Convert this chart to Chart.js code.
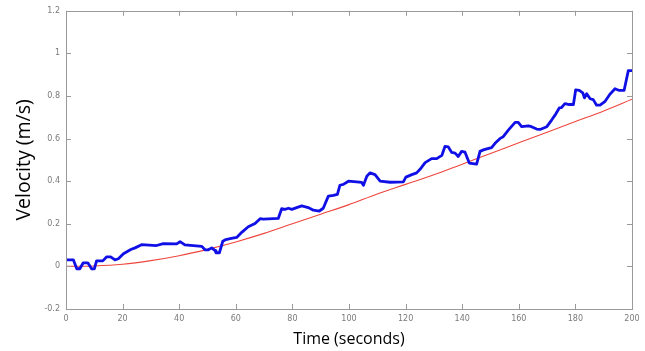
<!DOCTYPE html>
<html>
<head>
    <meta charset="UTF-8">
    <title>Velocity</title>
    <script src="https://cdn.jsdelivr.net/npm/chart.js"></script>
    <style>
        body {
            margin: 0;
            background-color: #fff;
            overflow: hidden;
        }
        .chart-container {
            width: 645px;
            height: 351px;
        }
    </style>
</head>
<body>
<div class="chart-container">
    <canvas id="velocityChart" width="645" height="351"></canvas>
</div>
<script>
    // measured velocity (blue)
    const measuredTime = [
        0, 2.6, 3.8, 4.9, 6.1, 7.7, 9.1, 10.0, 10.8, 13.0,
        14.4, 15.8, 17.3, 18.5, 20.3, 22.9, 24.4, 26.7, 32, 34.4,
        39.1, 40.3, 42, 48, 49.1, 50.3, 51.5, 52.7, 53, 54.2,
        55.4, 56.5, 58, 60.3, 62.1, 64.4, 66.8, 68.6, 69.7, 75,
        76.2, 77.4, 78.6, 79.8, 81.5, 83.3, 85.6, 87.4, 89.5, 90.9,
        92.7, 94.5, 95.9, 96.8, 98, 99.8, 102.7, 104.5, 105.1, 106.3,
        107.4, 109.2, 111, 114.5, 119.2, 120.1, 122.2, 123.9, 125.1, 126.9,
        129.2, 131, 132.8, 133.9, 135.1, 136.3, 137.5, 138.6, 139.8, 141,
        142.5, 145.1, 146.3, 147.5, 148.7, 150.4, 151.6, 153.4, 154.5, 156.3,
        158.7, 159.8, 161, 163.4, 164.5, 166.3, 167.5, 169.9, 171.6, 172.8,
        174.3, 175.1, 176.3, 177.8, 179.3, 180.1, 181.4, 182.6, 183.2, 184,
        185.2, 186.3, 187.5, 188.7, 190.5, 192.2, 194, 195.5, 197.2, 198.7,
        200
    ];
    const measuredVelocity = [
        0.031, 0.031, -0.011, -0.011, 0.017, 0.017, -0.012, -0.012, 0.026, 0.026,
        0.045, 0.045, 0.031, 0.036, 0.059, 0.079, 0.087, 0.102, 0.098, 0.107,
        0.106, 0.116, 0.101, 0.094, 0.078, 0.078, 0.087, 0.074, 0.064, 0.064,
        0.118, 0.126, 0.13, 0.136, 0.16, 0.186, 0.201, 0.224, 0.222, 0.225,
        0.271, 0.268, 0.273, 0.268, 0.276, 0.284, 0.276, 0.264, 0.26, 0.273,
        0.33, 0.333, 0.338, 0.381, 0.385, 0.4, 0.397, 0.394, 0.381, 0.423,
        0.439, 0.431, 0.4, 0.395, 0.397, 0.419, 0.431, 0.439, 0.456, 0.487,
        0.506, 0.506, 0.521, 0.563, 0.561, 0.535, 0.532, 0.516, 0.54, 0.536,
        0.485, 0.48, 0.54, 0.547, 0.552, 0.558, 0.578, 0.601, 0.609, 0.64,
        0.676, 0.676, 0.656, 0.66, 0.656, 0.645, 0.643, 0.656, 0.687, 0.71,
        0.744, 0.746, 0.764, 0.76, 0.76, 0.829, 0.826, 0.815, 0.791, 0.811,
        0.787, 0.783, 0.757, 0.757, 0.775, 0.808, 0.834, 0.826, 0.826, 0.919,
        0.919
    ];

    // model velocity (red)
    const modelTime = [0, 10, 20, 30, 40, 50, 60, 70, 80, 90, 100, 110, 120, 130, 140, 150, 160, 170, 180, 190, 200];
    const modelVelocity = [0, 0.002, 0.01, 0.027, 0.05, 0.08, 0.115, 0.155, 0.2, 0.245, 0.29, 0.34, 0.385, 0.43, 0.48, 0.53, 0.58, 0.63, 0.68, 0.73, 0.785];

    const xTicks = [0, 20, 40, 60, 80, 100, 120, 140, 160, 180, 200];
    const yTicks = [-0.2, 0, 0.2, 0.4, 0.6, 0.8, 1, 1.2];

    const axisColor = '#9a9a9a';
    const tickColor = '#7a7a7a';

    // matlab style box with inward ticks
    const boxPlugin = {
        id: 'box',
        afterDraw(chart) {
            const ctx = chart.ctx;
            const a = chart.chartArea;
            const xs = chart.scales.x;
            const ys = chart.scales.y;
            const len = 5;
            ctx.save();
            ctx.strokeStyle = axisColor;
            ctx.lineWidth = 1;
            ctx.strokeRect(Math.round(a.left) + 0.5, Math.round(a.top) + 0.5,
                Math.round(a.right - a.left), Math.round(a.bottom - a.top));
            ctx.beginPath();
            xTicks.forEach(t => {
                const px = Math.round(xs.getPixelForValue(t)) + 0.5;
                ctx.moveTo(px, a.bottom);
                ctx.lineTo(px, a.bottom - len);
                ctx.moveTo(px, a.top);
                ctx.lineTo(px, a.top + len);
            });
            yTicks.forEach(t => {
                const py = Math.round(ys.getPixelForValue(t)) + 0.5;
                ctx.moveTo(a.left, py);
                ctx.lineTo(a.left + len, py);
                ctx.moveTo(a.right, py);
                ctx.lineTo(a.right - len, py);
            });
            ctx.stroke();
            ctx.restore();
        }
    };

    const velocityChart = new Chart(document.getElementById('velocityChart'), {
        type: 'line',
        data: {
            datasets: [{
                label: 'Measured',
                data: measuredTime.map((t, i) => ({ x: t, y: measuredVelocity[i] })),
                borderColor: 'rgb(15, 15, 230)',
                borderWidth: 2.8,
                borderJoinStyle: 'round',
                borderCapStyle: 'round',
                pointRadius: 0,
                tension: 0
            }, {
                label: 'Model',
                data: modelTime.map((t, i) => ({ x: t, y: modelVelocity[i] })),
                borderColor: 'rgb(238, 70, 60)',
                borderWidth: 1.1,
                pointRadius: 0,
                cubicInterpolationMode: 'monotone'
            }]
        },
        options: {
            responsive: false,
            animation: false,
            events: [],
            layout: { padding: { left: 0, right: 13, top: 8, bottom: 0 } },
            plugins: {
                legend: { display: false },
                tooltip: { enabled: false }
            },
            scales: {
                x: {
                    type: 'linear',
                    min: 0,
                    max: 200,
                    grid: { display: false, drawTicks: false },
                    border: { display: false },
                    afterBuildTicks: s => { s.ticks = xTicks.map(v => ({ value: v })); },
                    afterFit: s => { s.height = 42; },
                    ticks: {
                        padding: 5,
                        color: tickColor,
                        font: { family: 'DejaVu Sans', size: 8 },
                        maxRotation: 0,
                        callback: v => String(v)
                    },
                    title: {
                        display: true,
                        text: 'Time (seconds)',
                        color: '#000',
                        font: { family: 'Open Sans', size: 16 },
                        padding: { top: 0, bottom: 2 }
                    }
                },
                y: {
                    min: -0.2,
                    max: 1.2,
                    grid: { display: false, drawTicks: false },
                    border: { display: false },
                    afterBuildTicks: s => { s.ticks = yTicks.map(v => ({ value: v })); },
                    afterFit: s => { s.width = 66; },
                    ticks: {
                        padding: 6,
                        color: tickColor,
                        font: { family: 'DejaVu Sans', size: 8 },
                        callback: v => String(Number(v.toFixed(1)))
                    },
                    title: {
                        display: true,
                        text: 'Velocity (m/s)',
                        color: '#000',
                        font: { family: 'Open Sans', size: 19.5 },
                        padding: { top: 13, bottom: 0 }
                    }
                }
            }
        },
        plugins: [boxPlugin]
    });
</script>
</body>
</html>
